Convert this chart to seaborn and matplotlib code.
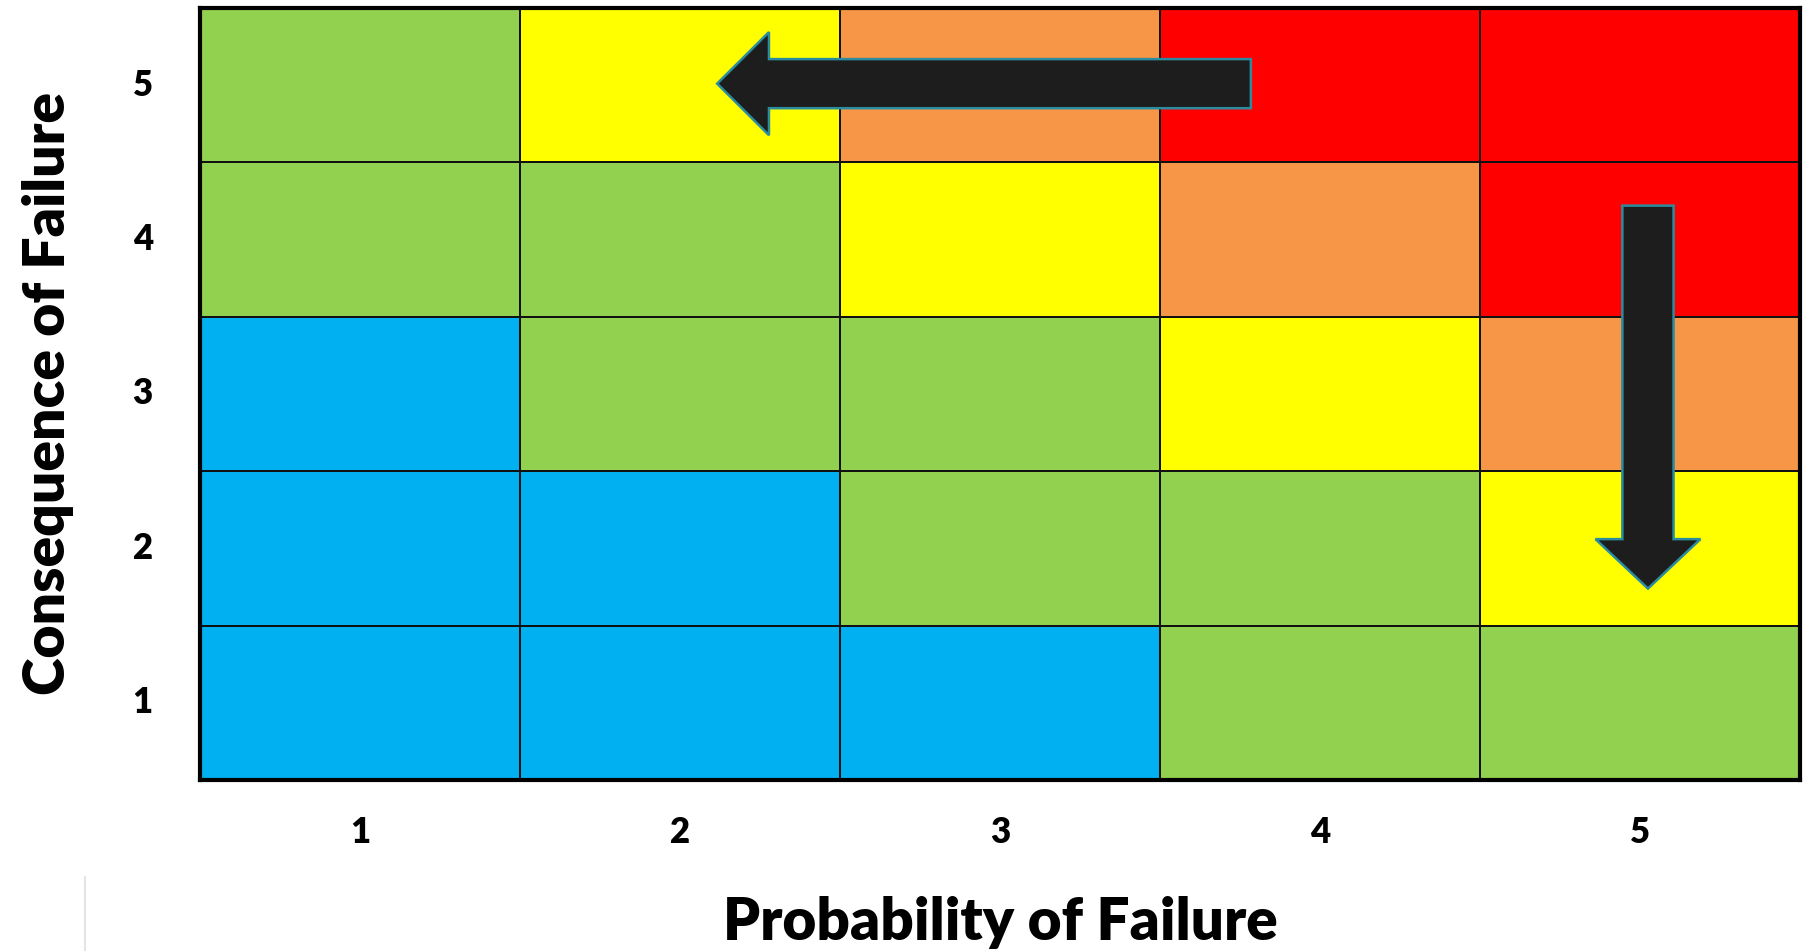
import numpy as np
import pandas as pd
import matplotlib
matplotlib.use("Agg")
import matplotlib.pyplot as plt
from matplotlib.colors import ListedColormap
from matplotlib.patches import Polygon
from matplotlib.lines import Line2D
import seaborn as sns

# Risk matrix: probability (columns) vs consequence (rows, 5 at the top)
probability = [1, 2, 3, 4, 5]
consequence = [5, 4, 3, 2, 1]
# risk level per cell: 0 = low (blue), 1 = green, 2 = yellow, 3 = orange, 4 = red
level_c5 = [1, 2, 3, 4, 4]
level_c4 = [1, 1, 2, 3, 4]
level_c3 = [0, 1, 1, 2, 3]
level_c2 = [0, 0, 1, 1, 2]
level_c1 = [0, 0, 0, 1, 1]
level_colors = ["#00B0F0", "#92D050", "#FFFF00", "#F79646", "#FF0000"]

grid = pd.DataFrame([level_c5, level_c4, level_c3, level_c2, level_c1],
                    index=consequence, columns=probability)

sns.set_theme(style="white")
plt.rcParams["font.family"] = ["Lato", "DejaVu Sans"]
plt.rcParams.update({"text.color": "black", "axes.labelcolor": "black",
                     "xtick.color": "black", "ytick.color": "black"})

fig = plt.figure(figsize=(18.07, 9.51), dpi=100)
ax = fig.add_axes([0.1107, 0.1798, 0.8854, 0.8118])

sns.heatmap(grid, ax=ax, cmap=ListedColormap(level_colors), vmin=-0.5, vmax=4.5,
            cbar=False, linewidths=1.3, linecolor="#111111", square=False)

for s in ax.spines.values():
    s.set_visible(True)
    s.set_color("#000000")
    s.set_linewidth(3)

ax.tick_params(axis="both", length=0, labelcolor="black")
ax.set_xticklabels([str(p) for p in probability], fontsize=25, fontweight="heavy")
ax.set_yticklabels([str(c) for c in consequence], fontsize=25, fontweight="heavy", rotation=0,
                   va="center")
ax.tick_params(axis="x", pad=26)
ax.tick_params(axis="y", pad=34)

ax.set_xlabel("Probability of Failure", fontsize=42, fontweight="heavy", labelpad=34,
              color="black")
ax.set_ylabel("Consequence of Failure", fontsize=41, fontweight="heavy", labelpad=42,
              color="black")


def col_x(p):
    # heatmap cell centres sit at index + 0.5
    return probability.index(p) + 0.5


def row_y(c):
    return consequence.index(c) + 0.5


def block_arrow(tail, tip, shaft_hw, head_hw, head_len):
    (x0, y0), (x1, y1) = tail, tip
    if y0 == y1:  # horizontal
        d = np.sign(x1 - x0)
        hx = x1 - d * head_len
        pts = [(x0, y0 - shaft_hw), (hx, y0 - shaft_hw), (hx, y0 - head_hw), (x1, y1),
               (hx, y0 + head_hw), (hx, y0 + shaft_hw), (x0, y0 + shaft_hw)]
    else:  # vertical
        d = np.sign(y1 - y0)
        hy = y1 - d * head_len
        pts = [(x0 - shaft_hw, y0), (x0 - shaft_hw, hy), (x0 - head_hw, hy), (x1, y1),
               (x0 + head_hw, hy), (x0 + shaft_hw, hy), (x0 + shaft_hw, y0)]
    ax.add_patch(Polygon(pts, closed=True, facecolor="#1D1D1D", edgecolor="#2A8C9E",
                         linewidth=1.8, zorder=5))


# lower the probability: along consequence 5 from column 4 back into column 2
block_arrow((col_x(4) - 0.216, row_y(5) - 0.01), (col_x(2) + 0.116, row_y(5) - 0.01),
            shaft_hw=0.159, head_hw=0.334, head_len=0.162)
# lower the consequence: down column 5 from consequence 4 into consequence 2
block_arrow((col_x(5) + 0.025, row_y(4) - 0.22), (col_x(5) + 0.025, row_y(2) + 0.26),
            shaft_hw=0.08, head_hw=0.164, head_len=0.32)

fig.add_artist(Line2D([85 / 1807, 85 / 1807], [0, 74 / 951], color="#E4E4E4", linewidth=1.5))

fig.savefig("out.png", dpi=100, facecolor="white")
